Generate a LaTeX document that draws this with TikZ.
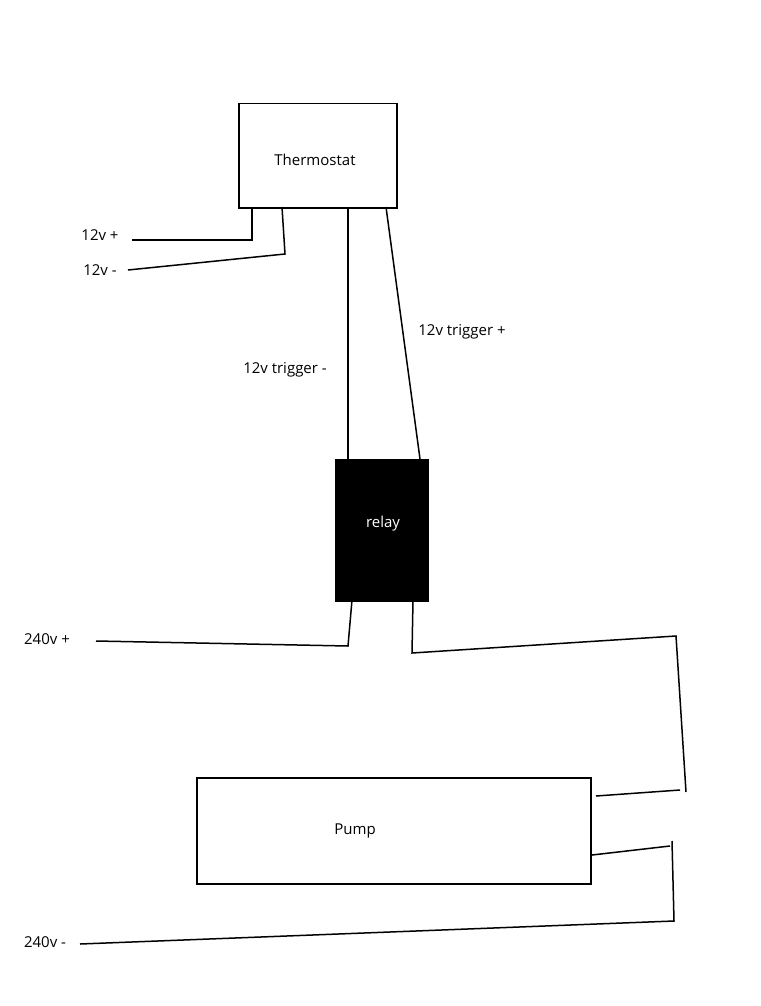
\documentclass[tikz,border=0pt]{standalone}
\usepackage{fontspec}
\setmainfont{Open Sans}
\begin{document}
\begin{tikzpicture}[x=1pt,y=-1pt,
  box/.style={draw,line width=1.5pt,anchor=north west,inner sep=0pt},
  wire/.style={line width=1.5pt},
  lbl/.style={font=\fontsize{15}{17}\selectfont}]
\useasboundingbox (0,0) rectangle (760,1006);
\node[box,minimum width=158pt,minimum height=104pt] (th) at (238,103) {};
\node[lbl] at (315,160) {Thermostat};
\node[box,fill=black,minimum width=92pt,minimum height=141pt] (relay) at (335,459) {};
\node[lbl,text=white] at (383,524) {relay};
\node[box,minimum width=394pt,minimum height=106pt] (pump) at (196,777) {};
\node[lbl] at (355,831) {Pump};
\node[lbl] (l1) at (100,235) {12v +};
\node[lbl] (l2) at (100,270) {12v -};
\node[lbl] (l3) at (285,370) {12v trigger -};
\node[lbl] (l4) at (462,332) {12v trigger +};
\node[lbl] (l5) at (47,639) {240v +};
\node[lbl] (l6) at (45,942) {240v -};
\coordinate (a1) at (132,240);
\coordinate (a2) at (128,270);
\coordinate (a3) at (96,641);
\coordinate (a4) at (80,944);
\draw[wire] (a1) -- (252,240) -- (252,207);
\draw[wire] (a2) -- (285,254) -- (282,207);
\draw[wire] (348,207) -- (348,459);
\draw[wire] (386,207) -- (420,459);
\draw[wire] (a3) -- (348,646) -- (352,600);
\draw[wire] (413,600) -- (412,653) -- (676,636) -- (686,792);
\draw[wire] (596,796) -- (680,790);
\draw[wire] (592,855) -- (670,846);
\draw[wire] (672,841) -- (674,921) -- (a4);
\end{tikzpicture}
\end{document}
